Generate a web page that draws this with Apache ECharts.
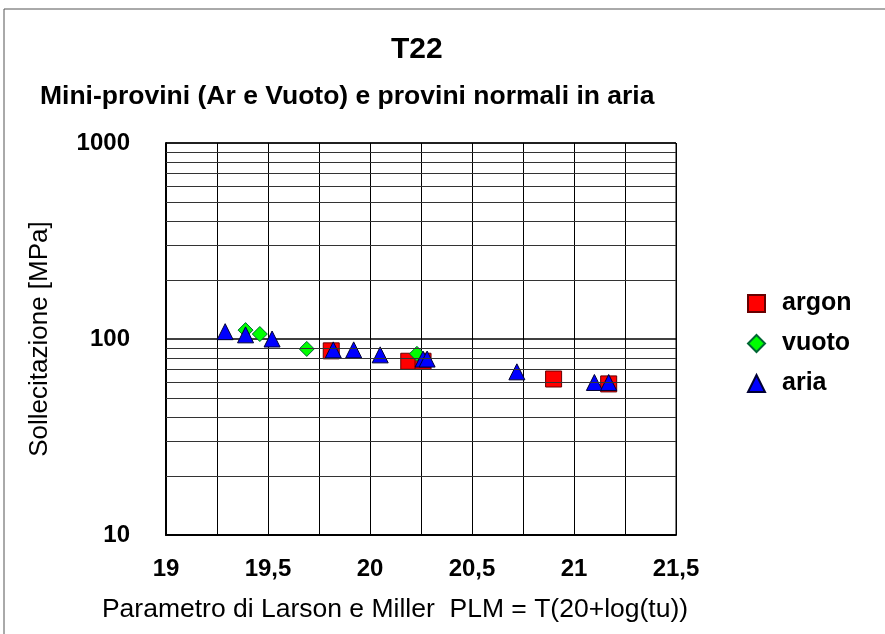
<!DOCTYPE html>
<html>
<head>
<meta charset="utf-8">
<script src="https://cdn.jsdelivr.net/npm/echarts@6/dist/echarts.min.js"></script>
<style>
  html, body { margin: 0; padding: 0; background: #fff; }
  #chart { width: 885px; height: 634px; }
</style>
</head>
<body>
<div id="chart"></div>
<script>
  // PLM values and stress [MPa]
  var argon = [[19.81, 87], [20.19, 77], [20.26, 77], [20.90, 62.5], [21.17, 59]];
  var vuoto = [[19.39, 111], [19.46, 106], [19.69, 89], [20.23, 84]];
  var aria = [[19.29, 109], [19.39, 105], [19.52, 100], [19.82, 88], [19.92, 88],
              [20.05, 83], [20.26, 79], [20.28, 79], [20.72, 68], [21.10, 60], [21.17, 60]];
  // minor log grid lines
  var minorY = [20, 30, 40, 50, 60, 70, 80, 90, 200, 300, 400, 500, 600, 700, 800, 900];

  var font = 'Liberation Sans, Arial, sans-serif';
  var chart = echarts.init(document.getElementById('chart'));
  chart.setOption({
    backgroundColor: '#fff',
    animation: false,
    graphic: [{
      type: 'polyline',
      shape: { points: [[4, 640], [4, 9], [890, 9]] },
      style: { stroke: '#555', lineWidth: 1, fill: null }
    }],
    title: [
      { text: 'T22', left: 386, top: 30, textStyle: { fontFamily: font, fontSize: 30, fontWeight: 'bold', color: '#000' } },
      { text: 'Mini-provini (Ar e Vuoto) e provini normali in aria', left: 35, top: 78,
        textStyle: { fontFamily: font, fontSize: 26.5, fontWeight: 'bold', color: '#000' } }
    ],
    legend: {
      orient: 'vertical', left: 742, top: 286, itemGap: 15,
      itemWidth: 17, itemHeight: 17,
      textStyle: { fontFamily: font, fontSize: 25, fontWeight: 'bold', color: '#000', padding: [0, 0, 0, 12] },
      data: ['argon', 'vuoto', 'aria']
    },
    grid: { left: 166, right: 209, top: 143, bottom: 99, show: true, borderColor: '#000', borderWidth: 1 },
    xAxis: {
      type: 'value', min: 19, max: 21.5, interval: 0.25,
      name: 'Parametro di Larson e Miller  PLM = T(20+log(tu))',
      nameLocation: 'middle', nameGap: 61,
      nameTextStyle: { fontFamily: font, fontSize: 26.5, color: '#000', padding: [0, 52, 0, 0] },
      axisLine: { show: true, lineStyle: { color: '#000', width: 2 } },
      axisTick: { show: false },
      axisLabel: {
        fontFamily: font, fontSize: 24, fontWeight: 'bold', color: '#000', margin: 22,
        formatter: function (v) {
          if (Math.abs(v * 2 - Math.round(v * 2)) > 1e-6) return '';
          return String(v).replace('.', ',');
        }
      },
      splitLine: { show: true, lineStyle: { color: '#000', width: 1 } }
    },
    yAxis: {
      type: 'log', logBase: 10, min: 10, max: 1000,
      name: 'Sollecitazione [MPa]', nameLocation: 'middle', nameGap: 113,
      nameTextStyle: { fontFamily: font, fontSize: 26, color: '#000' },
      axisLine: { show: true, lineStyle: { color: '#000', width: 2 } },
      axisTick: { show: false },
      axisLabel: {
        fontFamily: font, fontSize: 24, fontWeight: 'bold', color: '#000', margin: 36,
        formatter: function (v) { return String(Math.round(v)); }
      },
      splitLine: { show: true, lineStyle: { color: '#000', width: 1.5 } }
    },
    series: [
      {
        name: 'grid', type: 'scatter', data: [], silent: true,
        markLine: {
          silent: true, symbol: 'none', animation: false,
          label: { show: false },
          lineStyle: { color: '#333', width: 1, type: 'solid' },
          data: minorY.map(function (v) { return { yAxis: v }; })
        }
      },
      {
        name: 'argon', type: 'scatter', data: argon, symbol: 'rect', symbolSize: 16,
        itemStyle: { color: '#ff0000', borderColor: '#600', borderWidth: 1, opacity: 1 }
      },
      {
        name: 'vuoto', type: 'scatter', data: vuoto, symbol: 'diamond', symbolSize: 15,
        itemStyle: { color: '#00ff00', borderColor: '#063', borderWidth: 1, opacity: 1 }
      },
      {
        name: 'aria', type: 'scatter', data: aria, symbol: 'triangle', symbolSize: 16,
        itemStyle: { color: '#0000ff', borderColor: '#003', borderWidth: 1, opacity: 1 }
      }
    ]
  });
</script>
</body>
</html>
